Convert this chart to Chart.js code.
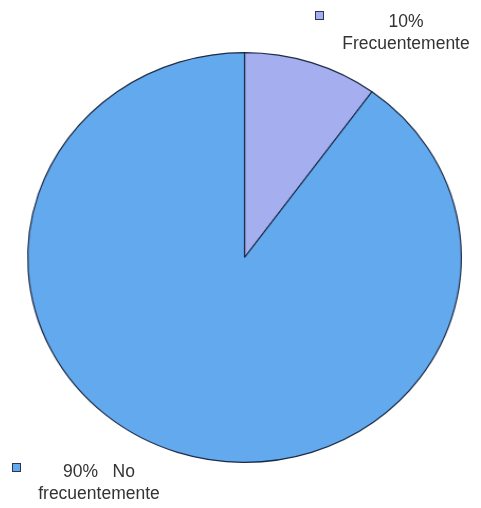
<!DOCTYPE html>
<html>
<head>
<meta charset="utf-8">
<script src="https://cdn.jsdelivr.net/npm/chart.js@4"></script>
<style>
  html, body { margin: 0; padding: 0; background: #fff; }
  #wrap { position: relative; width: 481px; height: 508px; overflow: hidden; }
  #chart-box { position: absolute; left: 0; top: 0; width: 481px; height: 508px;
    transform: scaleX(1.058); transform-origin: 244px 50%; }
  .lbl { position: absolute; font-family: "Liberation Sans", Arial, sans-serif;
    font-size: 17.5px; line-height: 22px; color: #333; text-align: center; white-space: pre; }
  .sq { position: absolute; width: 7px; height: 7px; border: 1px solid #2a3550; }
</style>
</head>
<body>
<div id="wrap">
  <div id="chart-box"><canvas id="pie"></canvas></div>
  <div class="sq" id="sq0"></div>
  <div class="lbl" id="lbl0"></div>
  <div class="sq" id="sq1"></div>
  <div class="lbl" id="lbl1"></div>
</div>
<script>
// datos del gráfico
const categorias = ["Frecuentemente", "No frecuentemente"];
const valores = [10, 90];
const colores = ["#a5aff0", "#63a9ee"];

// etiquetas de texto (como en la imagen original)
const textos = ["10%\nFrecuentemente", "90%   No\nfrecuentemente"];

// colocar etiquetas y cuadritos
const sq0 = document.getElementById("sq0");
sq0.style.left = "315px"; sq0.style.top = "11px"; sq0.style.background = colores[0];
const sq1 = document.getElementById("sq1");
sq1.style.left = "12px"; sq1.style.top = "463px"; sq1.style.background = colores[1];

const lbl0 = document.getElementById("lbl0");
lbl0.textContent = textos[0];
lbl0.style.left = "306px"; lbl0.style.width = "200px"; lbl0.style.top = "10px";
const lbl1 = document.getElementById("lbl1");
lbl1.textContent = textos[1];
lbl1.style.left = "-1px"; lbl1.style.width = "200px"; lbl1.style.top = "460px";

const ctx = document.getElementById("pie").getContext("2d");
new Chart(ctx, {
  type: "pie",
  data: {
    labels: categorias,
    datasets: [{
      data: valores,
      backgroundColor: colores,
      borderColor: "#1c2a44",
      borderWidth: 1.2,
    }],
  },
  options: {
    responsive: true,
    maintainAspectRatio: false,
    animation: false,
    layout: { padding: { left: 39, right: 31, top: 52, bottom: 45 } },
    plugins: {
      legend: { display: false },
      tooltip: { enabled: false },
    },
  },
});
</script>
</body>
</html>
